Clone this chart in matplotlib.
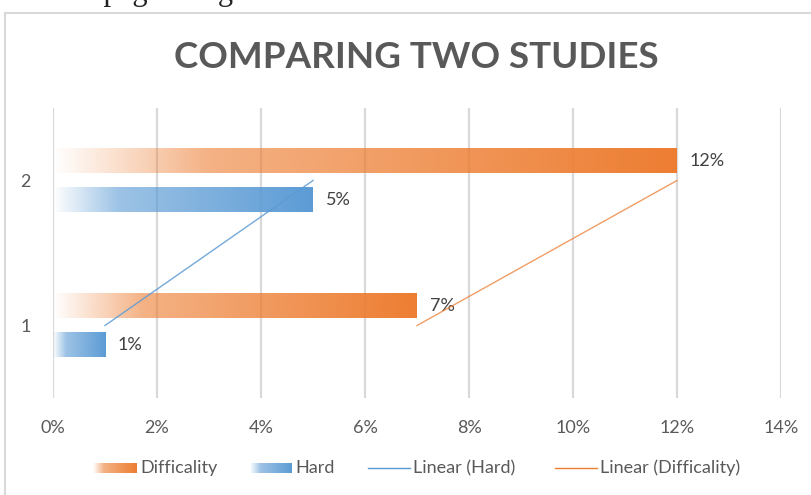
import numpy as np
import matplotlib.pyplot as plt
from matplotlib.lines import Line2D

plt.rcParams['font.family'] = ['Lato', 'DejaVu Sans']

categories = [1, 2]
difficality = [7, 12]      # percent
hard = [1, 5]              # percent
xticks = [0, 2, 4, 6, 8, 10, 12, 14]
series_names = ["Difficality", "Hard", "Linear (Hard)", "Linear (Difficality)"]

ORANGE = "#ED7D31"
BLUE = "#5B9BD5"
TXT = "#595959"
GRID = "#D9D9D9"
FS = 13


def gradient(color, n=256):
    # white -> colour fill, like the Excel gradient
    rgb = np.array(plt.matplotlib.colors.to_rgb(color))
    t = np.linspace(0, 1, n)
    a = np.interp(t, [0, 0.25, 1], [0.0, 0.6, 1.0])
    img = np.ones((1, n, 4))
    img[0, :, :3] = rgb
    img[0, :, 3] = a
    return img


fig = plt.figure(figsize=(8.12, 4.95), dpi=100)
ax = fig.add_axes([53 / 812, 1 - 398 / 495, 728 / 812, 290 / 495])

h = 0.166
off = 0.136
for c, d, hv in zip(categories, difficality, hard):
    ax.imshow(gradient(ORANGE), extent=(0, d, c + off - h / 2, c + off + h / 2),
              aspect="auto", zorder=3, interpolation="bilinear")
    ax.imshow(gradient(BLUE), extent=(0, hv, c - off - h / 2, c - off + h / 2),
              aspect="auto", zorder=3, interpolation="bilinear")
    ax.text(d + 0.25, c + off, f"{d}%", va="center", ha="left", fontsize=FS, color="#404040")
    ax.text(hv + 0.25, c - off, f"{hv}%", va="center", ha="left", fontsize=FS, color="#404040")

# linear trendlines
ax.plot(hard, categories, color=BLUE, lw=1, alpha=0.85, zorder=4)
ax.plot(difficality, categories, color=ORANGE, lw=1, alpha=0.75, zorder=4)

ax.set_xlim(0, 14)
ax.set_ylim(0.5, 2.5)
ax.set_xticks(xticks)
ax.set_xticklabels([f"{v}%" for v in xticks])
ax.set_yticks(categories)
ax.set_yticklabels([str(c) for c in categories])
ax.tick_params(axis="both", length=0, labelsize=FS, labelcolor=TXT)
ax.tick_params(axis="x", pad=16)
ax.tick_params(axis="y", pad=16)
ax.grid(axis="x", color=GRID, lw=1.6, zorder=0)
ax.set_axisbelow(True)
for s in ax.spines.values():
    s.set_visible(False)

# title and the cut-off page text above the chart
fig.text(416 / 812, 1 - 57 / 495, "COMPARING TWO STUDIES", ha="center", va="center",
         fontsize=26.5, fontweight="bold", color=TXT)
fig.text(8 / 812, 1 + 0.5 / 495, "the webpage design below the", ha="left", va="baseline",
         fontsize=22, family="Liberation Serif", color="#222222")

# chart border
fig.add_artist(Line2D([5 / 812, 1], [1 - 13 / 495] * 2, color=GRID, lw=1.5))
fig.add_artist(Line2D([5 / 812] * 2, [0, 1 - 13 / 495], color=GRID, lw=1.5))

# legend drawn by hand
lg = fig.add_axes([0, 0, 1, 1], zorder=5)
lg.axis("off")
ly = 468
lg.imshow(gradient(ORANGE), extent=(93, 137, ly + 5, ly - 5), aspect="auto", interpolation="bilinear")
lg.text(140, ly, series_names[0], va="center", fontsize=FS, color=TXT)
lg.imshow(gradient(BLUE), extent=(250, 292, ly + 5, ly - 5), aspect="auto", interpolation="bilinear")
lg.text(295, ly, series_names[1], va="center", fontsize=FS, color=TXT)
lg.plot([368, 410], [ly, ly], color=BLUE, lw=1)
lg.text(413, ly, series_names[2], va="center", fontsize=FS, color=TXT)
lg.plot([555, 597], [ly, ly], color=ORANGE, lw=1)
lg.text(600, ly, series_names[3], va="center", fontsize=FS, color=TXT)
lg.set_xlim(0, 812)
lg.set_ylim(495, 0)

fig.savefig("out.png", dpi=100)
